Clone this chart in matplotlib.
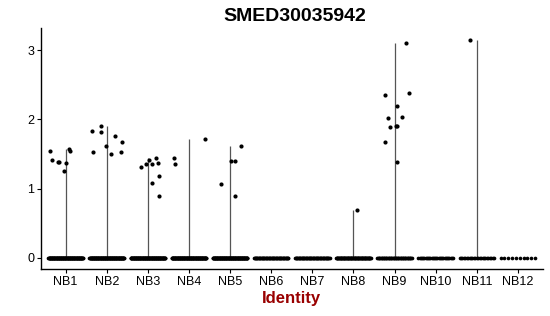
import matplotlib
matplotlib.use("Agg")
import matplotlib.pyplot as plt
import numpy as np

plt.rcParams["font.family"] = ["Liberation Sans", "DejaVu Sans"]

title = "SMED30035942"
groups = ["NB1", "NB2", "NB3", "NB4", "NB5", "NB6",
          "NB7", "NB8", "NB9", "NB10", "NB11", "NB12"]

# expressed cells per group: (jitter offset, value)
nb1 = [(-0.37, 1.55), (-0.33, 1.42), (-0.19, 1.39), (-0.17, 1.39), (-0.03, 1.26),
       (0.02, 1.37), (0.09, 1.58), (0.11, 1.54)]
nb2 = [(-0.37, 1.83), (-0.33, 1.53), (-0.13, 1.91), (-0.13, 1.82), (-0.02, 1.61),
       (0.11, 1.50), (0.20, 1.76), (0.34, 1.53), (0.36, 1.68)]
nb3 = [(-0.16, 1.32), (-0.04, 1.36), (0.02, 1.42), (0.11, 1.35), (0.11, 1.08),
       (0.19, 1.45), (0.24, 1.37), (0.28, 1.18), (0.28, 0.90)]
nb4 = [(-0.37, 1.45), (-0.33, 1.35), (0.39, 1.72)]
nb5 = [(-0.22, 1.07), (0.02, 1.40), (0.12, 1.40), (0.12, 0.90), (0.27, 1.61)]
nb8 = [(0.08, 0.69)]
nb9 = [(0.29, 3.10), (-0.24, 2.36), (0.34, 2.38), (0.05, 2.20), (-0.17, 2.02),
       (0.17, 2.04), (-0.11, 1.89), (0.03, 1.90), (0.05, 1.91), (-0.24, 1.67),
       (0.06, 1.39)]
nb11 = [(-0.17, 3.15)]
expressed = [nb1, nb2, nb3, nb4, nb5, [], [], nb8, nb9, [], nb11, []]

# number of cells with zero expression per group
zero_counts = [120, 120, 120, 120, 120, 60, 60, 80, 50, 30, 25, 10]

fig = plt.figure(figsize=(5.5, 3.16), dpi=100)
ax = fig.add_axes([0.0745, 0.149, 0.912, 0.762])

for i, (pts, nz) in enumerate(zip(expressed, zero_counts)):
    xc = i + 1
    vals = [v for _, v in pts]
    top = max(vals) if vals else 0.0
    if top > 0:
        ax.vlines(xc, 0, top, color="#555555", lw=0.9, zorder=1)
    xs = xc + np.linspace(-0.42, 0.42, nz)
    ax.scatter(xs, np.zeros(nz), s=7, color="black", lw=0, zorder=2)
    if pts:
        ax.scatter([xc + o for o, _ in pts], vals, s=9, color="black", lw=0, zorder=3)

ax.set_xlim(0.4, 12.6)
ax.set_ylim(-0.16, 3.32)
ax.set_xticks(range(1, len(groups) + 1))
ax.set_xticklabels(groups, fontsize=9)
ax.set_yticks([0, 1, 2, 3])
ax.set_yticklabels(["0", "1", "2", "3"], fontsize=9)
ax.tick_params(length=3, width=0.8, color="black", pad=2)
for s in ["top", "right"]:
    ax.spines[s].set_visible(False)
for s in ["left", "bottom"]:
    ax.spines[s].set_linewidth(1.0)
ax.set_xlabel("Identity", fontsize=12, fontweight="bold", color="#990000", labelpad=2)
fig.suptitle(title, x=0.535, y=0.975, fontsize=14, fontweight="bold")

fig.savefig("out.png", dpi=100)
